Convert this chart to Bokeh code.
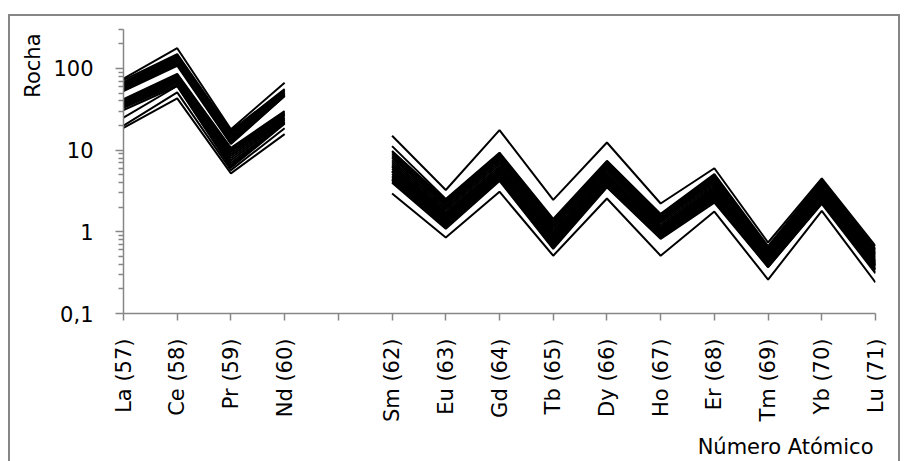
import numpy as np
from bokeh.plotting import figure
from bokeh.layouts import column
from bokeh.models import Range1d, FixedTicker, Title, ColumnDataSource, CustomJSTickFormatter
from bokeh.embed import file_html
from bokeh.resources import INLINE
import math

nan = float("nan")

elements = ["La (57)", "Ce (58)", "Pr (59)", "Nd (60)", "", "Sm (62)", "Eu (63)", "Gd (64)",
            "Tb (65)", "Dy (66)", "Ho (67)", "Er (68)", "Tm (69)", "Yb (70)", "Lu (71)"]

y_major = [0.1, 1, 10, 100]
y_minor = [0.2, 0.3, 0.4, 0.5, 0.6, 0.7, 0.8, 0.9, 2, 3, 4, 5, 6, 7, 8, 9,
           20, 30, 40, 50, 60, 70, 80, 90, 200, 300]

#      La    Ce    Pr    Nd   Pm   Sm    Eu    Gd    Tb    Dy    Ho    Er    Tm    Yb    Lu
s01 = [75, 177, 18.0, 67, nan, 15.0, 3.25, 17.6, 2.46, 12.4, 2.22, 6.0, 0.74, 4.5, 0.67]
s02 = [72, 150, 17.2, 56, nan, 11.2, 2.53, 9.3, 1.44, 7.4, 1.66, 5.1, 0.67, 4.3, 0.62]
s03 = [68, 146, 16.5, 55, nan, 9.8, 2.45, 9.1, 1.38, 7.2, 1.60, 4.9, 0.64, 4.2, 0.60]
s04 = [65, 142, 16.0, 53, nan, 9.4, 2.35, 8.7, 1.32, 6.9, 1.54, 4.7, 0.61, 4.0, 0.57]
s05 = [62, 137, 15.2, 51, nan, 8.9, 2.25, 8.3, 1.26, 6.6, 1.47, 4.5, 0.58, 3.9, 0.55]
s06 = [60, 132, 14.5, 50, nan, 8.4, 2.15, 7.9, 1.20, 6.3, 1.41, 4.3, 0.56, 3.8, 0.53]
s07 = [58, 127, 13.8, 49, nan, 8.0, 2.05, 7.5, 1.14, 6.0, 1.35, 4.1, 0.53, 3.6, 0.51]
s08 = [57, 122, 13.2, 48, nan, 7.5, 1.95, 7.1, 1.08, 5.7, 1.28, 3.9, 0.51, 3.5, 0.49]
s09 = [55, 117, 12.6, 47, nan, 7.1, 1.85, 6.7, 1.02, 5.4, 1.21, 3.7, 0.49, 3.4, 0.47]
s10 = [54, 112, 12.2, 46, nan, 6.7, 1.75, 6.3, 0.97, 5.1, 1.15, 3.5, 0.47, 3.3, 0.45]
s11 = [53, 108, 11.9, 46, nan, 6.4, 1.68, 6.0, 0.93, 4.9, 1.10, 3.4, 0.46, 3.2, 0.44]
s12 = [42, 86, 10.7, 30, nan, 6.2, 1.62, 5.8, 0.90, 4.7, 1.07, 3.3, 0.45, 3.1, 0.43]
s13 = [41, 84, 10.3, 29, nan, 5.9, 1.57, 5.6, 0.87, 4.5, 1.04, 3.2, 0.44, 3.0, 0.42]
s14 = [40, 82, 9.9, 28, nan, 5.6, 1.52, 5.4, 0.84, 4.4, 1.01, 3.1, 0.43, 2.95, 0.41]
s15 = [39, 80, 9.5, 27, nan, 5.4, 1.47, 5.2, 0.81, 4.2, 0.98, 3.0, 0.42, 2.85, 0.40]
s16 = [38, 78, 9.0, 26, nan, 5.1, 1.42, 5.0, 0.78, 4.1, 0.95, 2.9, 0.41, 2.75, 0.39]
s17 = [37, 75, 8.5, 25, nan, 4.9, 1.37, 4.8, 0.75, 4.0, 0.93, 2.8, 0.40, 2.65, 0.38]
s18 = [36, 72, 8.0, 24, nan, 4.7, 1.32, 4.7, 0.72, 3.9, 0.91, 2.7, 0.39, 2.55, 0.37]
s19 = [35, 70, 7.5, 23.5, nan, 4.5, 1.27, 4.5, 0.70, 3.8, 0.89, 2.6, 0.39, 2.45, 0.35]
s20 = [34, 67, 7.0, 22.5, nan, 4.3, 1.20, 4.4, 0.67, 3.65, 0.86, 2.5, 0.38, 2.35, 0.34]
s21 = [33, 64, 6.6, 22, nan, 4.15, 1.15, 4.3, 0.64, 3.55, 0.84, 2.4, 0.37, 2.27, 0.32]
s22 = [31, 61, 6.1, 21, nan, 4.0, 1.09, 4.2, 0.62, 3.5, 0.82, 2.28, 0.37, 2.2, 0.31]
s23 = [25, 61, 6.3, 21.5, nan, 5.5, 1.50, 5.3, 0.80, 4.3, 0.96, 2.9, 0.42, 2.8, 0.39]
s24 = [20, 51, 5.7, 18.5, nan, 4.4, 1.22, 4.4, 0.68, 3.7, 0.87, 2.5, 0.38, 2.4, 0.35]
s25 = [18.7, 43, 5.2, 15.7, nan, 2.94, 0.85, 3.1, 0.51, 2.56, 0.51, 1.77, 0.26, 1.81, 0.24]

samples = [s01, s02, s03, s04, s05, s06, s07, s08, s09, s10, s11, s12, s13,
           s14, s15, s16, s17, s18, s19, s20, s21, s22, s23, s24, s25]

FONT = "DejaVu Sans"
FSIZE = "21px"
GREY = "#868686"

xs_idx = list(range(len(elements)))

p = figure(frame_width=752, frame_height=284,
           min_border_left=113, min_border_right=23, min_border_top=13, min_border_bottom=148,
           y_axis_type="log",
           x_range=Range1d(0, len(elements) - 1), y_range=Range1d(0.1, 300),
           output_backend="svg", toolbar_location=None)
p.outline_line_color = None
p.xgrid.visible = False
p.ygrid.visible = False
p.background_fill_color = "white"
p.border_fill_color = "white"

src = ColumnDataSource(dict(xs=[np.array(xs_idx, dtype=float) for _ in samples],
                            ys=[np.array(s, dtype=float) for s in samples]))
p.multi_line("xs", "ys", source=src, line_color="black", line_width=2)

# x axis
xa = p.xaxis[0]
xa.ticker = FixedTicker(ticks=xs_idx, minor_ticks=[])
xa.major_label_overrides = {i: lab for i, lab in enumerate(elements)}
xa.major_label_orientation = math.pi / 2
xa.axis_line_color = GREY
xa.axis_line_width = 1.5
xa.major_tick_line_color = GREY
xa.major_tick_line_width = 1.5
xa.major_tick_out = 7
xa.major_tick_in = 0
xa.minor_tick_line_color = None
xa.major_label_standoff = 18
xa.major_label_text_font = FONT
xa.major_label_text_font_size = FSIZE
xa.major_label_text_color = "black"

# y axis
ya = p.yaxis[0]
ya.ticker = FixedTicker(ticks=y_major, minor_ticks=y_minor)
ya.formatter = CustomJSTickFormatter(code="return tick < 1 ? tick.toString().replace('.', ',') : tick.toFixed(0);")
ya.axis_line_color = GREY
ya.axis_line_width = 1.5
ya.major_tick_line_color = GREY
ya.major_tick_line_width = 1.5
ya.major_tick_out = 8
ya.major_tick_in = 0
ya.minor_tick_line_color = GREY
ya.minor_tick_line_width = 1.5
ya.minor_tick_out = 5
ya.minor_tick_in = 0
ya.major_label_standoff = 22
ya.major_label_text_font = FONT
ya.major_label_text_font_size = FSIZE
ya.major_label_text_color = "black"

# axis titles
p.add_layout(Title(text="Rocha", align="right", offset=4, standoff=12,
                   text_font=FONT, text_font_size=FSIZE, text_font_style="normal",
                   text_color="black"), "left")
p.add_layout(Title(text="Número Atómico", align="right", offset=2, standoff=15,
                   text_font=FONT, text_font_size=FSIZE, text_font_style="normal",
                   text_color="black"), "below")

layout = column(p, styles={"margin-left": "8px", "margin-top": "14px",
                           "border-top": "2px solid #868686",
                           "border-left": "2px solid #868686",
                           "border-right": "2px solid #868686"})

open("out.html", "w").write(file_html(layout, INLINE))
